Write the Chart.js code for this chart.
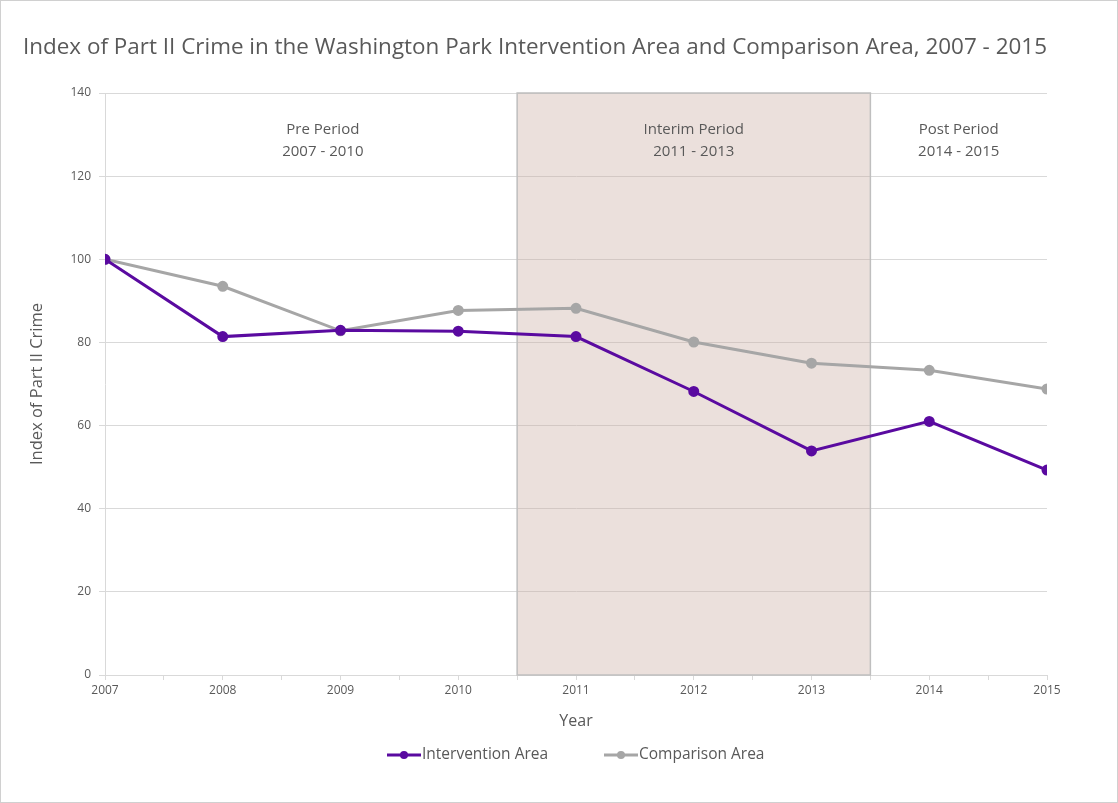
<!DOCTYPE html>
<html>
<head>
<meta charset="utf-8">
<script src="https://cdn.jsdelivr.net/npm/chart.js@4/dist/chart.umd.min.js"></script>
<style>
  html, body { margin: 0; padding: 0; background: #fff; }
  #wrap { width: 1116px; height: 801px; border: 1px solid #d0d0d0; }
</style>
</head>
<body>
<div id="wrap"><canvas id="c" width="1116" height="801"></canvas></div>
<script>
const years = [2007, 2008, 2009, 2010, 2011, 2012, 2013, 2014, 2015];
const interventionArea = [100, 81.4, 82.9, 82.7, 81.4, 68.2, 53.9, 61.0, 49.3];
const comparisonArea = [100, 93.5, 82.8, 87.7, 88.2, 80.1, 75.0, 73.3, 68.8];
const seriesNames = ['Intervention Area', 'Comparison Area'];
const periodLabels = [['Pre Period', '2007 - 2010'], ['Interim Period', '2011 - 2013'], ['Post Period', '2014 - 2015']];
const periodCenters = [2008.85, 2012, 2014.25];
const interimRange = [2010.5, 2013.5];

const FONT = "'Open Sans', 'Liberation Sans', sans-serif";
const TXT = '#595959';
const PURPLE = '#5a0aa0';
const GREY = '#a6a6a6';

const overlay = {
  id: 'overlay',
  beforeDatasetsDraw(chart) {
    const {ctx, scales: {x, y}} = chart;
    const x0 = x.getPixelForValue(interimRange[0]);
    const x1 = x.getPixelForValue(interimRange[1]);
    const yt = y.getPixelForValue(140);
    const yb = y.getPixelForValue(0);
    ctx.save();
    ctx.fillStyle = 'rgba(200,170,158,0.36)';
    ctx.fillRect(x0, yt, x1 - x0, yb - yt);
    ctx.strokeStyle = '#bfbfbf';
    ctx.lineWidth = 1.5;
    ctx.strokeRect(x0, yt, x1 - x0, yb - yt);
    ctx.fillStyle = TXT;
    ctx.font = '15px ' + FONT;
    ctx.textAlign = 'center';
    ctx.textBaseline = 'middle';
    periodLabels.forEach((lines, i) => {
      const cx = x.getPixelForValue(periodCenters[i]);
      ctx.fillText(lines[0], cx, yt + 37);
      ctx.fillText(lines[1], cx, yt + 59);
    });
    ctx.restore();
  },
  afterDraw(chart) {
    const {ctx} = chart;
    const items = [
      {name: seriesNames[0], color: PURPLE, x: 386},
      {name: seriesNames[1], color: GREY, x: 603}
    ];
    const yy = 754;
    ctx.save();
    ctx.font = '15.5px ' + FONT;
    ctx.textBaseline = 'middle';
    ctx.textAlign = 'left';
    items.forEach(it => {
      ctx.strokeStyle = it.color;
      ctx.lineWidth = 3;
      ctx.beginPath();
      ctx.moveTo(it.x, yy);
      ctx.lineTo(it.x + 34, yy);
      ctx.stroke();
      ctx.fillStyle = it.color;
      ctx.beginPath();
      ctx.arc(it.x + 17, yy, 4, 0, Math.PI * 2);
      ctx.fill();
      ctx.fillStyle = TXT;
      ctx.fillText(it.name, it.x + 35, yy);
    });
    ctx.restore();
  }
};

new Chart(document.getElementById('c'), {
  type: 'line',
  data: {
    datasets: [
      {
        label: seriesNames[0],
        data: years.map((yr, i) => ({x: yr, y: interventionArea[i]})),
        borderColor: PURPLE, backgroundColor: PURPLE,
        borderWidth: 3, pointRadius: 4, pointHoverRadius: 4, tension: 0
      },
      {
        label: seriesNames[1],
        data: years.map((yr, i) => ({x: yr, y: comparisonArea[i]})),
        borderColor: GREY, backgroundColor: GREY,
        borderWidth: 3, pointRadius: 4, pointHoverRadius: 4, tension: 0
      }
    ]
  },
  options: {
    responsive: false,
    animation: false,
    layout: { padding: { left: 22, right: 70, top: 0, bottom: 70 } },
    plugins: {
      legend: { display: false },
      tooltip: { enabled: false },
      title: {
        display: true,
        text: 'Index of Part II Crime in the Washington Park Intervention Area and Comparison Area, 2007 - 2015',
        color: TXT,
        font: { family: FONT, size: 22.5, weight: 'normal' },
        padding: { top: 33, bottom: 32 }
      }
    },
    scales: {
      x: {
        type: 'linear',
        min: 2007, max: 2015,
        afterFit(s) { s.height = 57; },
        afterBuildTicks(s) {
          const t = [];
          for (let v = 2007; v <= 2015.001; v += 0.5) t.push({value: v});
          s.ticks = t;
        },
        ticks: {
          autoSkip: false, maxRotation: 0,
          color: TXT, font: { family: FONT, size: 12 },
          callback: v => Number.isInteger(v) ? String(v) : ''
        },
        grid: { drawOnChartArea: false, color: '#d9d9d9', tickLength: 5 },
        border: { color: '#d9d9d9' },
        title: { display: true, text: 'Year', color: TXT, font: { family: FONT, size: 16 }, padding: { top: 11, bottom: 1 } }
      },
      y: {
        min: 0, max: 140,
        afterFit(s) { s.width = 82; },
        ticks: { stepSize: 20, color: TXT, font: { family: FONT, size: 12 }, padding: 8 },
        grid: { color: '#d9d9d9', tickLength: 6 },
        border: { color: '#d9d9d9' },
        title: { display: true, text: 'Index of Part II Crime', color: TXT, font: { family: FONT, size: 16.5 }, padding: { bottom: 4 } }
      }
    }
  },
  plugins: [overlay]
});
</script>
</body>
</html>
